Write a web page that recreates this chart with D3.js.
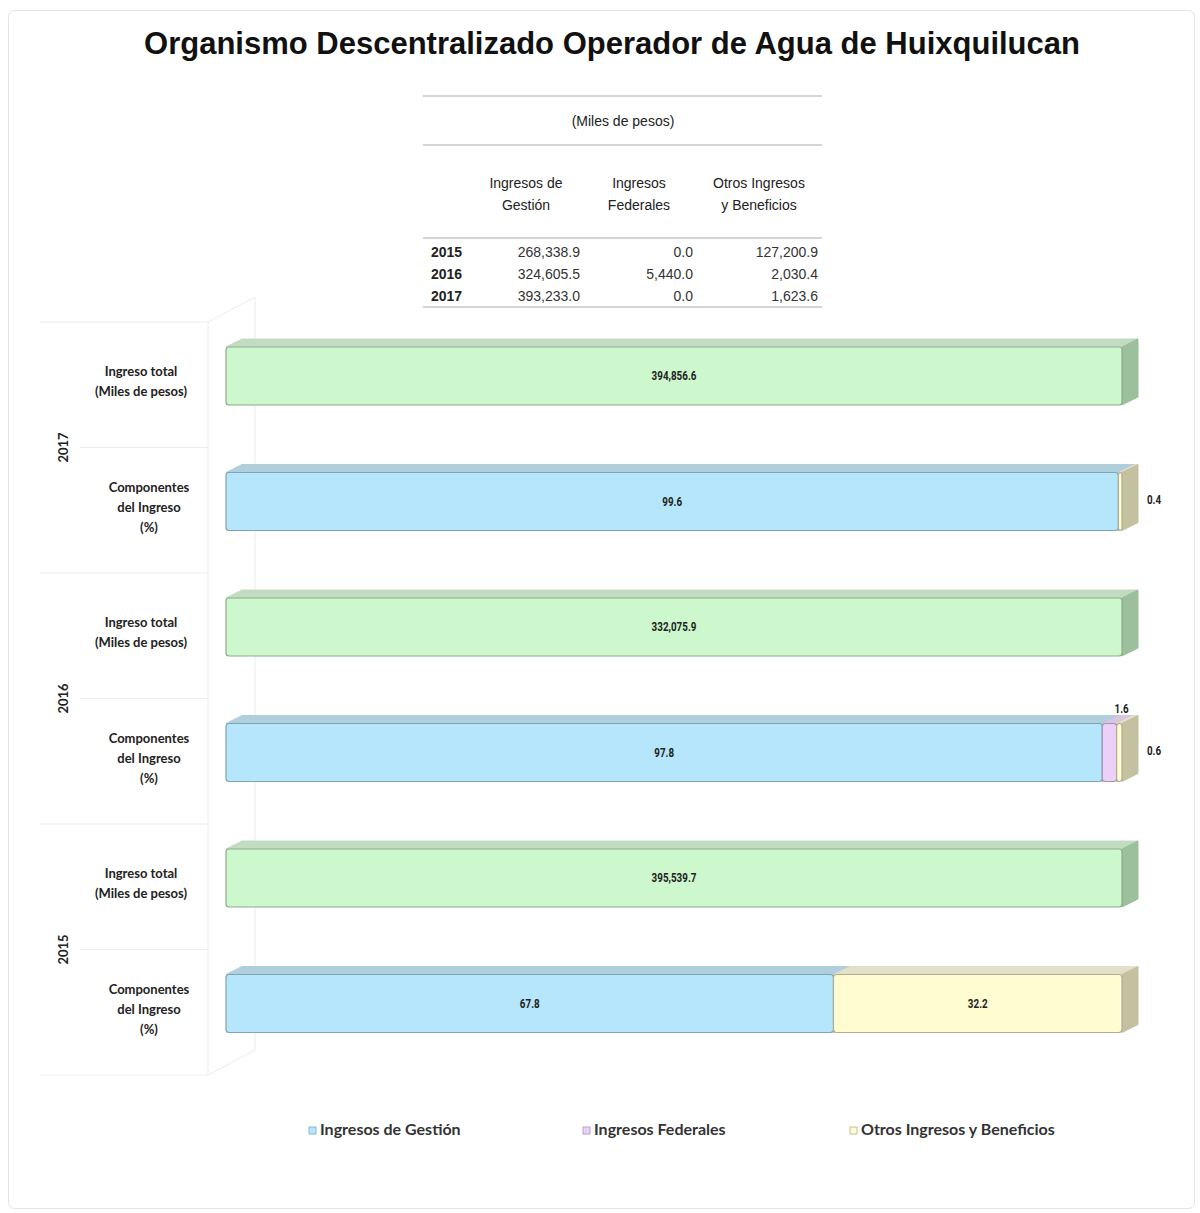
<!DOCTYPE html>
<html>
<head>
<meta charset="utf-8">
<script src="https://d3js.org/d3.v7.min.js"></script>
<style>
  body { margin: 0; background: #fff; }
  svg text { font-family: "Liberation Sans", Arial, sans-serif; }
</style>
</head>
<body>
<svg id="chart" width="1200" height="1213"></svg>
<script>
// table data
var years = ["2015", "2016", "2017"];
var tableCols = ["Ingresos de|Gestión", "Ingresos|Federales", "Otros Ingresos|y Beneficios"];
var gestion = ["268,338.9", "324,605.5", "393,233.0"];
var federales = ["0.0", "5,440.0", "0.0"];
var otros = ["127,200.9", "2,030.4", "1,623.6"];

// chart data (top to bottom)
var series = ["Ingresos de Gestión", "Ingresos Federales", "Otros Ingresos y Beneficios"];
var barYears = ["2017", "2016", "2015"];
var totals = ["394,856.6", "332,075.9", "395,539.7"];
var pctGestion = [99.6, 97.8, 67.8];
var pctFederales = [0, 1.6, 0];
var pctOtros = [0.4, 0.6, 32.2];

var svg = d3.select("#chart");

// card
svg.append("rect").attr("x", 8.5).attr("y", 10.5).attr("width", 1186).attr("height", 1198)
  .attr("rx", 6).attr("fill", "#fff").attr("stroke", "#e4e4e4");

svg.append("text").attr("x", 612).attr("y", 54).attr("text-anchor", "middle")
  .style("font-size", "31px").style("font-weight", "bold").attr("fill", "#111")
  .text("Organismo Descentralizado Operador de Agua de Huixquilucan");

// ---- table ----
var tb = svg.append("g");
[96, 145, 238, 307].forEach(function (y) {
  tb.append("line").attr("x1", 423).attr("x2", 822).attr("y1", y).attr("y2", y)
    .attr("stroke", "#d4d4d4").attr("stroke-width", 2);
});
tb.append("text").attr("x", 623).attr("y", 126).attr("text-anchor", "middle")
  .style("font-size", "14px").attr("fill", "#222").text("(Miles de pesos)");
var colX = [526, 639, 759];
tableCols.forEach(function (c, i) {
  c.split("|").forEach(function (l, j) {
    tb.append("text").attr("x", colX[i]).attr("y", 188 + j * 22).attr("text-anchor", "middle")
      .style("font-size", "14px").attr("fill", "#222").text(l);
  });
});
var rowY = d3.scalePoint().domain(years).range([257, 301]);
var valX = [580, 693, 818];
years.forEach(function (yr, i) {
  tb.append("text").attr("x", 431).attr("y", rowY(yr)).style("font-size", "14px")
    .style("font-weight", "bold").attr("fill", "#222").text(yr);
  [gestion, federales, otros].forEach(function (arr, k) {
    tb.append("text").attr("x", valX[k]).attr("y", rowY(yr)).attr("text-anchor", "end")
      .style("font-size", "14px").attr("fill", "#333").text(arr[i]);
  });
});

// ---- bars ----
var rows = [];
barYears.forEach(function (yr, i) {
  rows.push({ key: yr + "-t", year: yr, type: "total", segs: [{ s: "total", v0: 0, v1: 100, label: totals[i] }] });
  var a = pctGestion[i], b = pctFederales[i], c = pctOtros[i];
  rows.push({ key: yr + "-c", year: yr, type: "comp", segs: [
    { s: series[0], v0: 0, v1: a, label: a.toFixed(1) },
    { s: series[1], v0: a, v1: a + b, label: b.toFixed(1) },
    { s: series[2], v0: a + b, v1: a + b + c, label: c.toFixed(1) }
  ].filter(function (d) { return d.v1 - d.v0 > 0; }) });
});

var x = d3.scaleLinear().domain([0, 100]).range([226, 1122]);
var y = d3.scaleBand().domain(rows.map(function (r) { return r.key; })).range([322, 1075]);

var colors = {
  "total": { front: "#cdf7cd", top: "#c2dcc2", side: "#9cbf9c" },
  "Ingresos de Gestión": { front: "#b5e6fb", top: "#b0cfdc", side: "#8fb6c6" },
  "Ingresos Federales": { front: "#ebd1f7", top: "#d8c6e0", side: "#b9a3c4" },
  "Otros Ingresos y Beneficios": { front: "#fffcd2", top: "#e2e0c8", side: "#c4c1a0" }
};
var dx = 16, dy = -8, off = 25, bh = 58;

// back wall / category grid
var grid = svg.append("g").attr("stroke", "#ececec").attr("fill", "none");
grid.append("line").attr("x1", 208).attr("x2", 208).attr("y1", 322).attr("y2", 1075);
grid.append("line").attr("x1", 255).attr("x2", 255).attr("y1", 297).attr("y2", 1050);
grid.append("line").attr("x1", 208).attr("x2", 255).attr("y1", 322).attr("y2", 297);
grid.append("line").attr("x1", 208).attr("x2", 255).attr("y1", 1075).attr("y2", 1050);
rows.forEach(function (r) {
  var yy = y(r.key);
  grid.append("line").attr("x1", r.type === "total" ? 40 : 80).attr("x2", 208)
    .attr("y1", yy).attr("y2", yy);
});
grid.append("line").attr("x1", 40).attr("x2", 208).attr("y1", 1075).attr("y2", 1075);

var bars = svg.append("g");
rows.forEach(function (r) {
  var y0 = y(r.key) + off;
  var g = bars.append("g");
  r.segs.forEach(function (d) {
    var c = colors[d.s], x0 = x(d.v0), x1 = x(d.v1);
    // top face
    g.append("path").attr("d", "M" + x0 + "," + y0 + "L" + (x0 + dx) + "," + (y0 + dy) +
      "L" + (x1 + dx) + "," + (y0 + dy) + "L" + x1 + "," + y0 + "Z")
      .attr("fill", c.top).attr("stroke", c.top).attr("stroke-width", 1);
    // side face
    g.append("path").attr("d", "M" + x1 + "," + y0 + "L" + (x1 + dx) + "," + (y0 + dy) +
      "L" + (x1 + dx) + "," + (y0 + dy + bh) + "L" + x1 + "," + (y0 + bh) + "Z")
      .attr("fill", c.side).attr("stroke", c.side).attr("stroke-width", 1);
    // front face
    g.append("rect").attr("x", x0).attr("y", y0).attr("width", Math.max(x1 - x0, 1)).attr("height", bh)
      .attr("rx", 3).attr("fill", c.front).attr("stroke", d3.color(c.side).darker(0.3)).attr("stroke-width", 1.2);
  });
  r.segs.forEach(function (d) {
    var w = x(d.v1) - x(d.v0), lx, ly;
    if (w > 40) { lx = (x(d.v0) + x(d.v1)) / 2; ly = y0 + bh / 2 + 4; }
    else if (d.s === series[1]) { lx = x(d.v1) + 5; ly = y0 - 11; }
    else { lx = x(d.v1) + dx + 16; ly = y0 + bh / 2 + 2; }
    g.append("text").attr("transform", "translate(" + lx + "," + ly + ") scale(0.82,1)")
      .attr("text-anchor", "middle")
      .style("font-family", "Roboto, sans-serif")
      .style("font-size", "12px").style("font-weight", "bold").attr("fill", "#222")
      .text(d.label);
  });
});

// category labels
var lab = svg.append("g").attr("text-anchor", "middle").attr("fill", "#222")
  .style("font-size", "13px").style("font-weight", "bold");
rows.forEach(function (r) {
  var c = y(r.key) + off + bh / 2;
  var lines = r.type === "total" ? ["Ingreso total", "(Miles de pesos)"] : ["Componentes", "del Ingreso", "(%)"];
  var cx = r.type === "total" ? 141 : 149;
  lines.forEach(function (l, j) {
    lab.append("text").attr("x", cx).attr("y", c - (lines.length - 1) * 10 + j * 20 + 10)
      .style("font-family", "Lato, 'Open Sans', sans-serif").text(l);
  });
});
barYears.forEach(function (yr) {
  var yc = y(yr + "-c");
  lab.append("text").attr("transform", "translate(68," + yc + ") rotate(-90)")
    .style("font-family", "Lato, 'Open Sans', sans-serif").text(yr);
});

// legend
var legX = [309, 583, 850];
var leg = svg.append("g");
series.forEach(function (s, i) {
  leg.append("rect").attr("x", legX[i]).attr("y", 1127).attr("width", 7).attr("height", 7)
    .attr("fill", colors[s].front).attr("stroke", colors[s].side);
  leg.append("text").attr("x", legX[i] + 11).attr("y", 1135)
    .style("font-family", "Lato, 'Open Sans', sans-serif").style("font-size", "16px")
    .style("font-weight", "bold").attr("fill", "#333").text(s);
});
</script>
</body>
</html>
